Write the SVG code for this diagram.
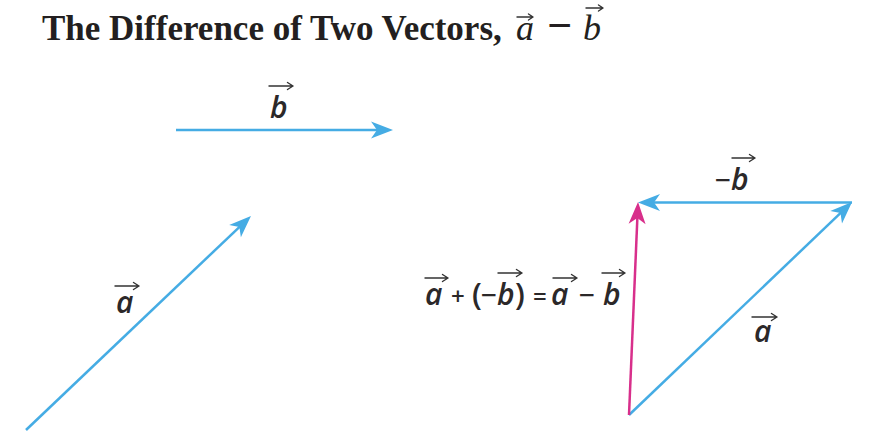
<svg xmlns="http://www.w3.org/2000/svg" width="884" height="448" viewBox="0 0 884 448">
<style>
.vec{stroke:#45ACE4;stroke-width:2.5;fill:none}
.vecp{stroke:#D82F8B;stroke-width:2.5;fill:none}
.title{font-family:"Liberation Serif",serif;font-weight:bold;font-size:35px;fill:#231F20}
.tminus{font-family:"Liberation Serif",serif;font-weight:bold;font-size:44px;fill:#231F20}
.tvar{font-family:"Liberation Serif",serif;font-style:italic;font-size:36px;fill:#231F20}
.lbl{font-family:"Open Sans","Noto Sans",sans-serif;font-style:italic;font-weight:600;font-size:30px;fill:#2B2829}
.op{font-family:"Open Sans","Noto Sans",sans-serif;font-weight:600;font-size:28px;fill:#2B2829}
.eq{font-family:"Open Sans","Noto Sans",sans-serif;font-weight:600;font-size:24px;fill:#2B2829}
.par{font-family:"Open Sans","Noto Sans",sans-serif;font-weight:600;font-size:31px;fill:#2B2829}
.acc{stroke:#333;stroke-width:1.4;fill:none;stroke-linecap:round;stroke-linejoin:round}
</style>
<defs>
<marker id="hb" markerUnits="userSpaceOnUse" markerWidth="30" markerHeight="20" viewBox="-10 -10 30 20" refX="0" refY="0" orient="auto">
<path d="M15,0 L-7,-8.5 L-1,0 L-7,8.5 Z" fill="#45ACE4"/>
</marker>
<marker id="hp" markerUnits="userSpaceOnUse" markerWidth="30" markerHeight="20" viewBox="-10 -10 30 20" refX="0" refY="0" orient="auto">
<path d="M15,0 L-7,-8.5 L-1,0 L-7,8.5 Z" fill="#D82F8B"/>
</marker>
</defs>

<g id="title">
<text class="title" x="42" y="40">The Difference of Two Vectors,</text>
<text class="tvar" x="516" y="40">a</text>
<text class="tminus" x="547" y="40">−</text>
<text class="tvar" x="583" y="40">b</text>
<path class="acc" d="M517,17 L533,17 M528.5,14 L533,17 L528.5,20"/>
<path class="acc" d="M586,8 L603,8 M598.5,5 L603,8 L598.5,11"/>
</g>

<g id="connectors">
<line id="vec-a-left" class="vec" x1="26" y1="430" x2="240.1" y2="226.3" marker-end="url(#hb)"/>
<line id="vec-b-top" class="vec" x1="176" y1="130" x2="378" y2="130" marker-end="url(#hb)"/>
<line id="vec-neg-b" class="vec" x1="852" y1="202.5" x2="653" y2="202.5" marker-end="url(#hb)"/>
<line id="vec-a-right" class="vec" x1="629" y1="415" x2="841.2" y2="212.4" marker-end="url(#hb)"/>
<line id="vec-diff" class="vecp" x1="629" y1="415" x2="637.4" y2="217" marker-end="url(#hp)"/>
</g>

<g id="label-b">
<text class="lbl" x="270" y="118">b</text>
<path class="acc" d="M269,86 L293,86 M287.5,82.5 L293,86 L287.5,89.5"/>
</g>

<g id="label-a-left">
<text class="lbl" x="116" y="313">a</text>
<path class="acc" d="M115,286 L139,286 M133.5,282.5 L139,286 L133.5,289.5"/>
</g>

<g id="label-neg-b">
<text class="op" x="715" y="190">−</text>
<text class="lbl" x="731" y="190">b</text>
<path class="acc" d="M732,158 L755,158 M749.5,154.5 L755,158 L749.5,161.5"/>
</g>

<g id="label-a-right">
<text class="lbl" x="754" y="342">a</text>
<path class="acc" d="M752,317 L777,317 M771.5,313.5 L777,317 L771.5,320.5"/>
</g>

<g id="label-equation">
<text y="305"><tspan class="lbl" x="425">a</tspan><tspan class="eq" x="451">+</tspan><tspan class="par" x="472">(</tspan><tspan class="op" x="481">−</tspan><tspan class="lbl" x="497">b</tspan><tspan class="par" x="515">)</tspan><tspan class="eq" x="533">=</tspan><tspan class="lbl" x="551">a</tspan><tspan class="op" x="579">−</tspan><tspan class="lbl" x="603">b</tspan></text>
<path class="acc" d="M425,278 L448,278 M442.5,274.5 L448,278 L442.5,281.5"/>
<path class="acc" d="M498,273 L522,273 M516.5,269.5 L522,273 L516.5,276.5"/>
<path class="acc" d="M553,278 L577,278 M571.5,274.5 L577,278 L571.5,281.5"/>
<path class="acc" d="M602,273 L625,273 M619.5,269.5 L625,273 L619.5,276.5"/>
</g>
</svg>
